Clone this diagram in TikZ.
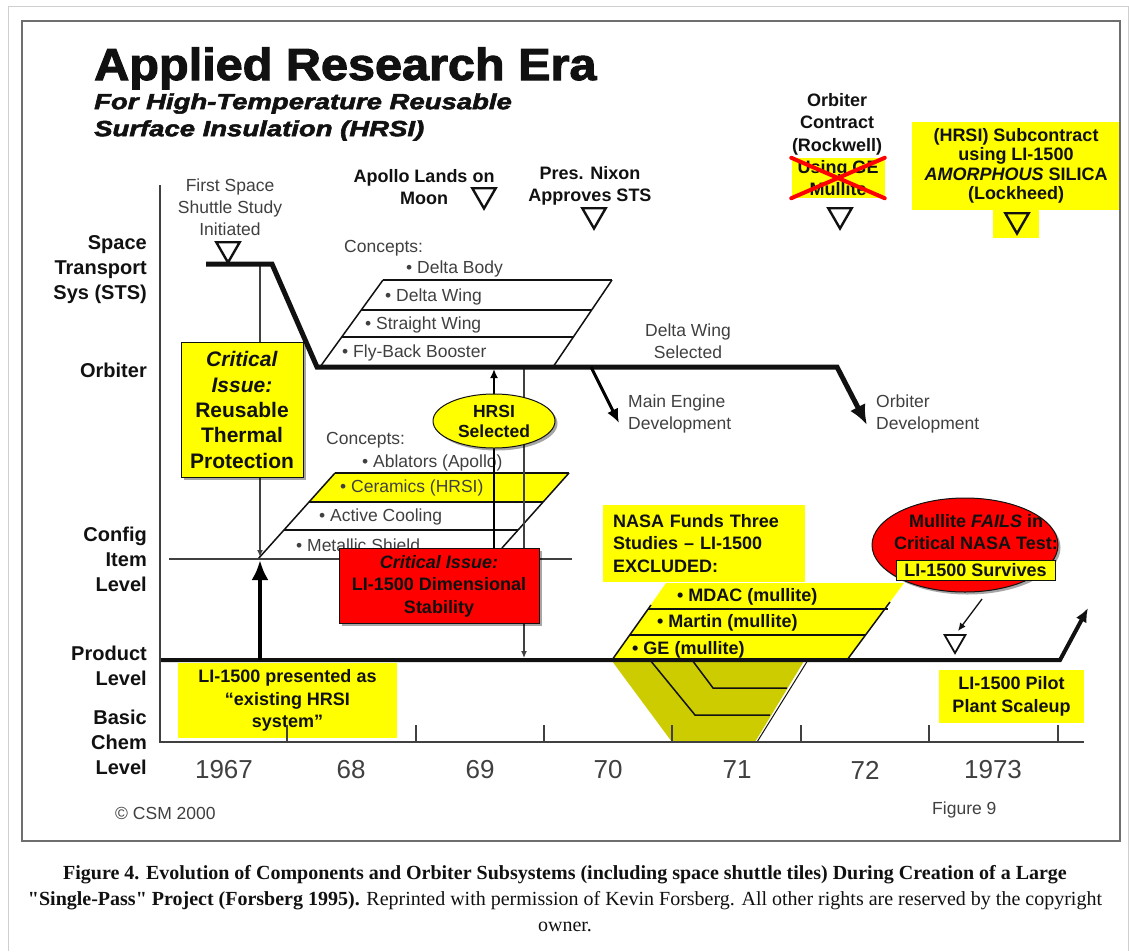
\documentclass[tikz,border=0pt]{standalone}
\usepackage{fontspec}
\setmainfont{Liberation Sans}
\newfontfamily\capfont{Liberation Serif}
\newfontfamily\heavyfont{Liberation Sans}[BoldFeatures={FakeBold=2.2},BoldItalicFeatures={FakeBold=2.2}]
\usetikzlibrary{arrows.meta,shapes.geometric,shadows}
\definecolor{hiyel}{HTML}{FFFF00}
\definecolor{hired}{HTML}{FF0000}
\definecolor{funnel}{HTML}{CCCC00}
\definecolor{ink}{HTML}{111111}
\definecolor{soft}{HTML}{404040}
\definecolor{framegray}{HTML}{6E6E6E}
\definecolor{pagegray}{HTML}{CFCFCF}
\tikzset{
  >=Latex,
  every node/.style={text=ink,inner sep=0pt},
  rowlbl/.style={font=\fontsize{20}{25}\selectfont\bfseries,align=right,anchor=east},
  softtxt/.style={font=\fontsize{17.5}{22}\selectfont,text=soft,align=center},
  concept/.style={font=\fontsize{17.5}{22}\selectfont,text=soft,anchor=west},
  event/.style={font=\fontsize{18}{22.5}\selectfont\bfseries,align=center},
  yearlbl/.style={font=\fontsize{26}{30}\selectfont,text=soft},
  ybox/.style={fill=hiyel,font=\fontsize{18}{22.5}\selectfont\bfseries,align=center},
  shadowed/.style={draw=ink,line width=1pt,drop shadow={shadow xshift=2.5pt,shadow yshift=-2.5pt,fill=black,opacity=0.35}},
  critbox/.style={ybox,shadowed,font=\fontsize{21}{25.3}\selectfont\bfseries},
  redbox/.style={ybox,shadowed,fill=hired},
  yoval/.style={ybox,ellipse,shadowed},
  redoval/.style={ellipse,shadowed,fill=hired},
  evtri/.style={regular polygon,regular polygon sides=3,shape border rotate=180,draw=ink,line width=2.4pt,minimum size=27pt},
  stsline/.style={line width=5pt,draw=ink},
  prodline/.style={line width=4pt,draw=ink},
  axisline/.style={line width=2.2pt,draw=soft},
  guide/.style={line width=1.3pt,draw=soft},
  rowline/.style={line width=1.5pt,draw=ink},
  yeartick/.style={line width=2pt,draw=soft},
  crossout/.style={line width=4pt,draw=hired,line cap=round},
}

\begin{document}
\begin{tikzpicture}[x=1pt,y=-1pt]
  \useasboundingbox (0,0) rectangle (1129,951);
  \fill[white] (0,0) rectangle (1129,951);
  \draw[pagegray,line width=1pt] (8,951) -- (8,6) -- (1128,6) -- (1128,951);

  \node[anchor=base west,font=\heavyfont\fontsize{45}{50}\selectfont\bfseries] (title) at (94,80) {\scalebox{1.08}[1]{Applied Research Era}};
  \node[anchor=west,align=left,font=\heavyfont\fontsize{22}{27}\selectfont\bfseries\itshape] (subtitle) at (94,117) {\scalebox{1.25}[1]{For High-Temperature Reusable}\\\scalebox{1.25}[1]{Surface Insulation (HRSI)}};

  \node[rowlbl] (rowsts) at (147,270) {Space\\Transport\\Sys (STS)};
  \node[rowlbl] (roworb) at (147,370) {Orbiter};
  \node[rowlbl] (rowcfg) at (147,559) {Config\\Item\\Level};
  \node[rowlbl] (rowprod) at (147,666) {Product\\Level};
  \node[rowlbl] (rowchem) at (147,742) {Basic\\Chem\\Level};
  \foreach \yr/\xx in {1967/224,68/351,69/480,70/608,71/737,72/865,1973/993}
    \node[yearlbl] (yr\yr) at (\xx,770) {\yr};
  \node[softtxt,anchor=west] (csm) at (115,813) {\textcopyright{} CSM 2000};
  \node[softtxt,anchor=west] (fig9) at (932,810) {Figure 9};

  \coordinate (stsstart) at (206,264);
  \coordinate (stsbend) at (272,264);
  \coordinate (orbstart) at (317,367);
  \coordinate (orbbend) at (837,367);
  \coordinate (odtip) at (867,425);
  \coordinate (mebranch) at (591,367);
  \coordinate (metip) at (619,423);
  \coordinate (prodstart) at (160,660);
  \coordinate (prodbend) at (1060,660);
  \coordinate (prodtip) at (1088,608);
  \coordinate (axtop) at (160,185);
  \coordinate (axcorner) at (160,742);
  \coordinate (axend) at (1084,742);
  \coordinate (cfgleft) at (169,559);
  \coordinate (cfgright) at (572,559);
  \coordinate (stsguide) at (260,264);
  \coordinate (cfgguide) at (260,557);
  \coordinate (produp) at (260,660);
  \coordinate (cfgup) at (260,560);
  \coordinate (orbguide) at (524,367);
  \coordinate (prodguide) at (524,658);
  \coordinate (hrsifoot) at (494,548);
  \coordinate (hrsitip) at (494,369);
  \coordinate (mulfoot) at (982,599);
  \coordinate (multip) at (958,631);

  \fill[funnel] (612,661) -- (672,742) -- (755,742) -- (804,661) -- cycle;
  \draw[rowline] (650,660) -- (695,715) -- (770,715);
  \draw[rowline] (692,660) -- (713,688) -- (787,688);
  \draw[rowline,line width=1pt] (808,660) -- (757,742);
  \fill[hiyel] (612,660) -- (666,583) -- (904,583) -- (847,660) -- cycle;
  \draw[rowline] (612,660) -- (651,605);
  \draw[rowline] (847,660) -- (890,602);
  \draw[rowline] (648,609) -- (888,609);
  \draw[rowline] (630,635) -- (866,635);

  \draw[rowline] (383,280) -- (612,280);
  \draw[rowline] (361,310) -- (592,310);
  \draw[rowline] (342,337) -- (573,337);
  \draw[rowline] (383,280) -- (320,367);
  \draw[rowline] (612,280) -- (553,367);

  \fill[hiyel] (335,473) -- (569,473) -- (543,502) -- (309,502) -- cycle;
  \draw[rowline] (335,473) -- (569,473);
  \draw[rowline] (309,502) -- (543,502);
  \draw[rowline] (284,530) -- (518,530);
  \draw[rowline] (335,473) -- (258,559);
  \draw[rowline] (569,473) -- (502,548);

  \node[concept] (orbconcepts) at (344,248) {Concepts:};
  \node[concept] (deltabody) at (406,269) {\textbullet{} Delta Body};
  \node[concept] (deltawing) at (385,297) {\textbullet{} Delta Wing};
  \node[concept] (straightwing) at (365,325) {\textbullet{} Straight Wing};
  \node[concept] (flyback) at (342,353) {\textbullet{} Fly-Back Booster};
  \node[concept] (cfgconcepts) at (326,440) {Concepts:};
  \node[concept] (ablators) at (362,463) {\textbullet{} Ablators (Apollo)};
  \node[concept] (ceramics) at (340,488) {\textbullet{} Ceramics (HRSI)};
  \node[concept] (cooling) at (319,517) {\textbullet{} Active Cooling};
  \node[concept] (metallic) at (296,545) {\textbullet{} Metallic Shield};
  \node[event,anchor=west] (mdac) at (677,597) {\textbullet{} MDAC (mullite)};
  \node[event,anchor=west] (martin) at (657,623) {\textbullet{} Martin (mullite)};
  \node[event,anchor=west] (ge) at (632,650) {\textbullet{} GE (mullite)};

  \node[softtxt] (deltasel) at (688,341) {Delta Wing\\Selected};
  \node[softtxt,anchor=west,align=left] (medev) at (628,414) {Main Engine\\Development};
  \node[softtxt,anchor=west,align=left] (orbdev) at (876,414) {Orbiter\\Development};

  \draw[guide,-{Latex[length=7pt,width=6pt]}] (stsguide) -- (cfgguide);
  \draw[guide] (cfgleft) -- (cfgright);
  \draw[guide,-{Latex[length=7pt,width=6pt]}] (orbguide) -- (prodguide);
  \draw[line width=2.5pt,-{Latex[length=9pt,width=8pt]}] (hrsifoot) -- (hrsitip);
  \draw[stsline,-{Latex[length=20pt,width=17pt]}] (stsstart) -- (stsbend) -- (orbstart) -- (orbbend) -- (odtip);
  \draw[line width=3pt,-{Latex[length=14pt,width=12pt]}] (mebranch) -- (metip);
  \draw[prodline,-{Latex[length=14pt,width=12pt]}] (prodstart) -- (prodbend) -- (prodtip);
  \draw[line width=4.5pt,-{Latex[length=20pt,width=17pt]}] (produp) -- (cfgup);

  \node[softtxt] (firststudy) at (230,207) {First Space\\Shuttle Study\\Initiated};
  \node[evtri] (trifirst) at (228,249) {};
  \node[event] (apollo) at (424,187) {Apollo Lands on\\Moon};
  \node[evtri] (triapollo) at (484,195) {};
  \node[event] (nixon) at (590,186) {Pres. Nixon\\Approves STS};
  \node[evtri] (trinixon) at (594,215) {};
  \node[event] (contract) at (837,124) {Orbiter\\Contract\\(Rockwell)};
  \node[ybox,minimum width=93pt,minimum height=40pt] (usingge) at (838,178) {Using GE\\Mullite};
  \draw[crossout] (usingge.north west) -- (usingge.south east);
  \draw[crossout] (usingge.south west) -- (usingge.north east);
  \node[evtri] (tricontract) at (840,215) {};
  \node[ybox,minimum width=208pt,minimum height=88pt,font=\fontsize{18}{19.5}\selectfont\bfseries] (subcontract) at (1016,166) {(HRSI) Subcontract\\using LI-1500\\\textit{AMORPHOUS} SILICA\\(Lockheed)};
  \node[ybox,minimum width=46pt,minimum height=28pt,anchor=north] (subtab) at (subcontract.south) {};
  \node[evtri] (trisub) at (1017,220) {};

  \node[critbox,minimum width=122pt,minimum height=135pt] (critthermal) at (242,410) {\textit{Critical}\\\textit{Issue:}\\Reusable\\Thermal\\Protection};
  \node[yoval,minimum width=122pt,minimum height=54pt,font=\fontsize{17.5}{20}\selectfont\bfseries] (hrsisel) at (494,421) {HRSI\\Selected};
  \node[redbox,minimum width=200pt,minimum height=75pt] (critdim) at (439,586) {\textit{Critical Issue:}\\LI-1500 Dimensional\\Stability};
  \node[ybox,minimum width=219pt,minimum height=75pt] (presented) at (287.5,700.5) {LI-1500 presented as\\“existing HRSI\\system”};
  \node[ybox,minimum width=202pt,minimum height=77pt,text width=182pt,align=left] (nasafunds) at (704,543.5) {NASA Funds Three\\Studies -- LI-1500\\EXCLUDED:};
  \node[redoval,minimum width=186pt,minimum height=94pt] (mulfail) at (965,545) {};
  \node[event] (multxt) at (976,532) {Mullite \textit{FAILS} in\\Critical NASA Test:};
  \node[ybox,draw=ink,line width=1pt,minimum width=159pt,minimum height=20pt] (survives) at (975.5,570) {LI-1500 Survives};
  \node[evtri,line width=1.8pt,minimum size=24pt] (tripilot) at (955,641) {};
  \draw[line width=1.3pt,draw=ink,-{Latex[length=8pt,width=7pt]}] (mulfoot) -- (multip);
  \node[ybox,minimum width=145pt,minimum height=53pt] (pilot) at (1011.5,696.5) {LI-1500 Pilot\\Plant Scaleup};

  \draw[axisline] (axtop) -- (axcorner) -- (axend);
  \foreach \xx in {287,416,544,672,801,929,1058}
    \draw[yeartick] (\xx,742) -- (\xx,725);

  \draw[framegray,line width=2pt] (22,21) rectangle (1120,841);
  \node[font=\capfont\fontsize{20}{26}\selectfont,align=center] (caption) at (565,899) {\textbf{Figure 4. Evolution of Components and Orbiter Subsystems (including space shuttle tiles) During Creation of a Large}\\\textbf{"Single-Pass" Project (Forsberg 1995).} Reprinted with permission of Kevin Forsberg. All other rights are reserved by the copyright\\owner.};
\end{tikzpicture}
\end{document}
